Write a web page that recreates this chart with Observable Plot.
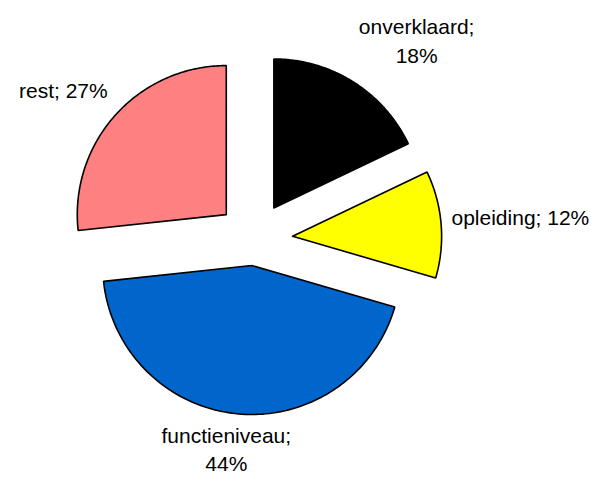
<!DOCTYPE html>
<html><head><meta charset="utf-8">
<script src="https://cdn.jsdelivr.net/npm/d3@7"></script>
<script src="https://cdn.jsdelivr.net/npm/@observablehq/plot@0.6"></script>
<style>html,body{margin:0;padding:0;background:#fff}</style>
</head><body><div id="chart"></div>
<script>
// ---- data ----
const categories = ["onverklaard", "opleiding", "functieniveau", "rest"];
const values = [17.9, 11.6, 43.8, 26.7];
// ---- style ----
const colors = ["#000000", "#FFFF00", "#0066CC", "#FF8080"];
const explodeFrac = [0.25, 0.26, 0.175, 0.25];
const W = 591, H = 477;
const FONT = '"Liberation Sans", Arial, sans-serif';
const FS = 21, LH = 1.36;
const LABEL_R = 1.07;   // label anchor radius (pie radii), measured from slice apex
const xDomain = [-1.7013, 2.2651];
const yDomain = [-1.5973, 1.6040];
const pxPerUnit = W / (xDomain[1] - xDomain[0]);

const total = d3.sum(values);
const cum = d3.cumsum(values);
const slices = [];
const labels = [];
const ctx = document.createElement("canvas").getContext("2d");
ctx.font = `${FS}px ${FONT}`;
const clamp = v => Math.max(-1, Math.min(1, v));

categories.forEach((cat, i) => {
  const a0 = (cum[i] - values[i]) / total * 2 * Math.PI;
  const a1 = cum[i] / total * 2 * Math.PI;
  const mid = (a0 + a1) / 2;
  const ax = explodeFrac[i] * Math.sin(mid), ay = explodeFrac[i] * Math.cos(mid);
  slices.push({cat, x: ax, y: ay});
  const N = 120;
  for (let k = 0; k <= N; k++) {
    const a = a0 + (a1 - a0) * k / N;
    slices.push({cat, x: ax + Math.sin(a), y: ay + Math.cos(a)});
  }
  slices.push({cat, x: ax, y: ay});
  // label: "outside end" - text box pushed outward from the anchor point
  const pct = Math.round(values[i] / total * 100);
  const s = Math.sin(mid), c = Math.cos(mid);
  const sep = Math.abs(s) < 0.6 ? "\n" : " ";
  const text = `${cat};${sep}${pct}%`;
  const lines = text.split("\n");
  const w = d3.max(lines, l => ctx.measureText(l).width);
  const h = lines.length * FS * LH;
  labels.push({
    text,
    x: ax + LABEL_R * s + clamp(2 * s) * (w / 2) / pxPerUnit,
    y: ay + LABEL_R * c + clamp(2 * c) * (h / 2) / pxPerUnit
  });
});

const chart = Plot.plot({
  width: W, height: H,
  margin: 0,
  x: {domain: xDomain, axis: null},
  y: {domain: yDomain, axis: null},
  color: {domain: categories, range: colors},
  style: {background: "#fff", fontFamily: FONT},
  marks: [
    Plot.line(slices, {x: "x", y: "y", z: "cat", fill: "cat", stroke: "#000", strokeWidth: 1.6, strokeLinejoin: "miter", curve: "linear"}),
    Plot.text(labels, {x: "x", y: "y", text: "text", fontSize: FS, fontFamily: FONT, fill: "#000", textAnchor: "middle", lineAnchor: "middle", lineHeight: LH, dy: -5})
  ]
});
document.getElementById("chart").appendChild(chart);
</script>
</body></html>
